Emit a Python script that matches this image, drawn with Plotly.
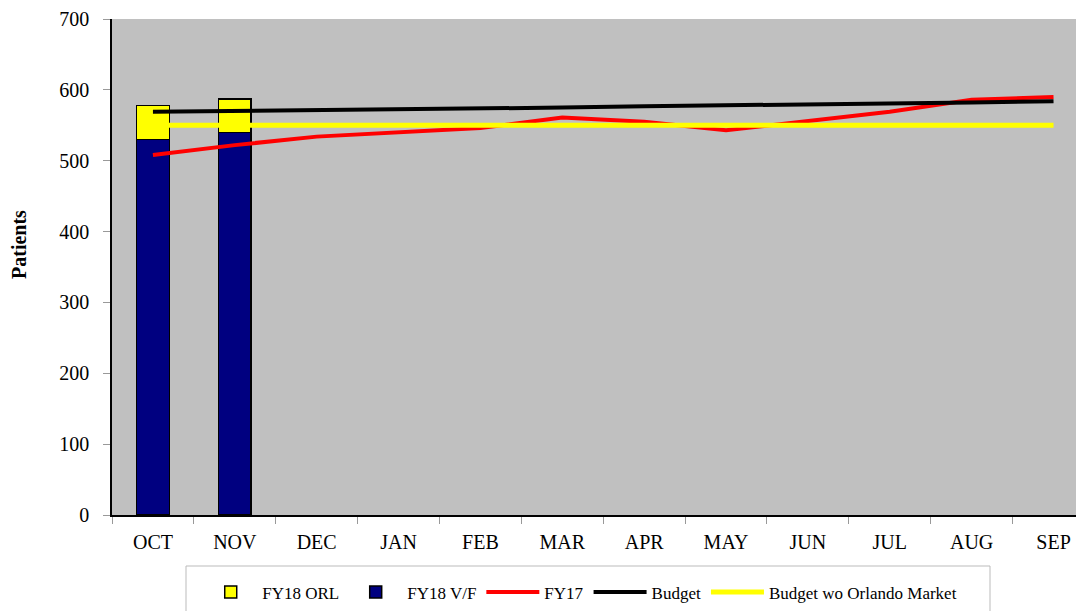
import plotly.graph_objects as go

# Monthly patient counts, fiscal year Oct-Sep
months = ['OCT', 'NOV', 'DEC', 'JAN', 'FEB', 'MAR', 'APR', 'MAY', 'JUN', 'JUL', 'AUG', 'SEP']
fy18_vf = [530, 540]
fy18_orl = [48, 47]
fy17 = [508, 522, 534, 540, 546, 561, 555, 543, 556, 569, 586, 590]
budget = [569, 570, 572, 573, 574, 575, 577, 578, 579, 581, 582, 584]
budget_wo_orl = [550] * 12

serif = 'Liberation Serif, DejaVu Serif, serif'
tick_font = dict(family=serif, size=20, color='black')

fig = go.Figure()

fig.add_trace(go.Bar(x=months[:2], y=fy18_vf, name='FY18 V/F', marker_color='#000080',
                     marker_line=dict(color='black', width=1.5), width=0.4, legendrank=2))
fig.add_trace(go.Bar(x=months[:2], y=fy18_orl, name='FY18 ORL', marker_color='#FFFF00',
                     marker_line=dict(color='black', width=1.5), width=0.4, legendrank=1))
fig.add_trace(go.Scatter(x=months, y=fy17, name='FY17', mode='lines',
                         line=dict(color='#FF0000', width=4), legendrank=3))
fig.add_trace(go.Scatter(x=months, y=budget, name='Budget', mode='lines',
                         line=dict(color='black', width=4), legendrank=4))
fig.add_trace(go.Scatter(x=months, y=budget_wo_orl, name='Budget wo Orlando Market', mode='lines',
                         line=dict(color='#FFFF00', width=5), legendrank=5))

# page body has an 8px margin, so the figure is offset by 8px
fig.update_layout(
    width=1084, height=611,
    barmode='stack',
    plot_bgcolor='#C0C0C0',
    paper_bgcolor='white',
    margin=dict(l=104, r=0, t=11, b=104, autoexpand=False),
    font=dict(family=serif, size=20, color='black'),
    legend=dict(orientation='h', x=0.089, xanchor='left', y=-0.12, yanchor='top',
                borderwidth=0, font=dict(family=serif, size=17, color='black'),
                bgcolor='rgba(0,0,0,0)', traceorder='normal', itemwidth=53),
    showlegend=True,
    shapes=[dict(type='rect', xref='paper', yref='paper',
                 x0=(186 - 112) / 980, x1=(990 - 112) / 980,
                 y0=-0.23, y1=-(566 - 515) / 496,
                 line=dict(color='#BBBBBB', width=1), fillcolor='white', layer='below')],
    annotations=[dict(text='<b>Patients</b>', textangle=-90, showarrow=False,
                      xref='paper', yref='paper', x=0, xshift=-93,
                      y=(515 - 245) / 496, xanchor='center', yanchor='middle',
                      font=dict(family=serif, size=20, color='black'))],
)
fig.update_xaxes(type='category', categoryorder='array', categoryarray=months,
                 range=[-0.5, 11.47], showline=True, linecolor='black', linewidth=1.5,
                 ticks='outside', tickson='boundaries', tickcolor='#999999', ticklen=7,
                 ticklabelstandoff=8, tickfont=tick_font, showgrid=False)
fig.update_yaxes(range=[0, 700], dtick=100, showline=True, linecolor='black', linewidth=1.5,
                 ticks='outside', tickcolor='#999999', ticklen=7, showgrid=False,
                 ticklabelstandoff=10, tickfont=tick_font, zeroline=False)

fig.write_html("out.html")
